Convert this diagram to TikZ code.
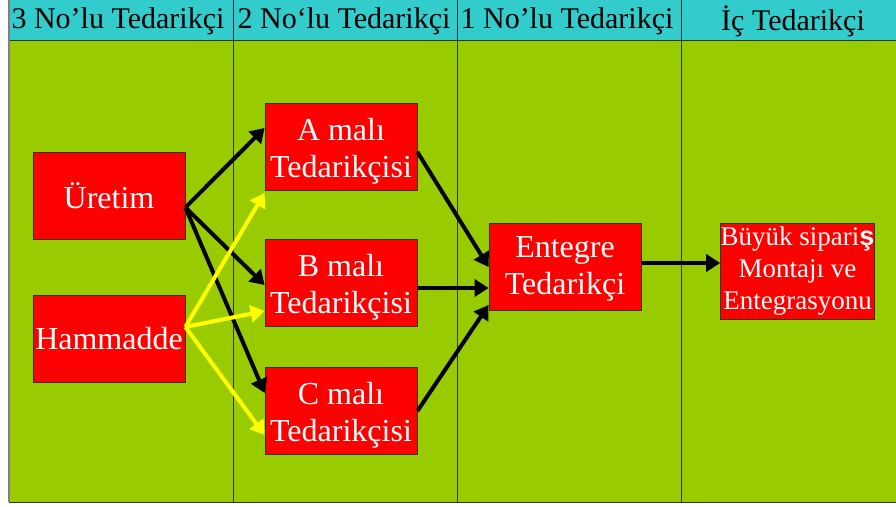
\documentclass[tikz,border=0pt]{standalone}
\usepackage{fontspec}
\setmainfont{Liberation Serif}
\newfontfamily\sansf{Liberation Sans}
\usetikzlibrary{arrows.meta}
\definecolor{hdrcyan}{HTML}{33CCCC}
\definecolor{lanegreen}{HTML}{99CC00}
\definecolor{boxred}{HTML}{FF0000}
\definecolor{arrowyellow}{HTML}{FFFF00}
\definecolor{boxedge}{HTML}{333300}
\newcommand{\lowertext}[2]{\raisebox{-#1}[\height][\depth]{\parbox{150pt}{\centering #2}}}
\begin{document}
\begin{tikzpicture}[x=1pt,y=-1pt,
  hdr/.style={font=\fontsize{30}{34}\selectfont, text=black, anchor=center},
  redbox/.style={draw=boxedge, line width=0.8pt, fill=boxred, text=white,
    minimum width=152pt, minimum height=87pt, inner sep=0pt, align=center,
    font=\fontsize{32}{37}\selectfont},
  smallbox/.style={redbox, minimum height=96pt, font=\fontsize{27}{32}\selectfont},
  blk/.style={line width=4pt, draw=black, -{Triangle[length=14pt,width=17pt]}},
  yel/.style={line width=4pt, draw=arrowyellow, -{Triangle[length=14pt,width=17pt]}},
  lane/.style={draw=black!80, line width=0.9pt}]
\useasboundingbox (0,0) rectangle (896,506);
% background
\fill[lanegreen] (9,40) rectangle (896,502);
\fill[hdrcyan] (9,0) rectangle (896,40);
\draw[lane] (9,40) -- (896,40);
\draw[lane] (233,0) -- (233,502);
\draw[lane] (457,0) -- (457,502);
\draw[lane] (681,0) -- (681,502);
\draw[draw=black!50, line width=1.2pt] (9,0) -- (9,502);
\draw[lane] (9,502) -- (896,502);
% headers
\node[hdr] (h3) at (118,21) {3 No’lu Tedarikçi};
\node[hdr] (h2) at (344,21) {2 No‘lu Tedarikçi};
\node[hdr] (h1) at (567,21) {1 No’lu Tedarikçi};
\node[hdr] (h0) at (793,21) {İç Tedarikçi};
% boxes
\node[redbox] (ure) at (109,195.5) {Üretim};
\node[redbox] (ham) at (109,339) {Hammadde};
\node[redbox] (a) at (341,147) {\lowertext{4pt}{A malı\\Tedarikçisi}};
\node[redbox] (b) at (341,283) {\lowertext{4pt}{B malı\\Tedarikçisi}};
\node[redbox] (c) at (341,411) {\lowertext{4pt}{C malı\\Tedarikçisi}};
\node[redbox] (ent) at (565,267) {\lowertext{2pt}{Entegre\\Tedarikçi}};
\node[smallbox] (buy) at (797.5,271.5) {Büyük sipari{\sansf\bfseries ş}\\Montajı ve\\Entegrasyonu};
% black arrows from Üretim
\draw[blk] ([yshift=-12pt]ure.east) -- ([yshift=19pt]a.west);
\draw[blk] ([yshift=-12pt]ure.east) -- ([yshift=-2pt]b.west);
\draw[blk] ([yshift=-12pt]ure.east) -- ([yshift=18pt]c.west);
% yellow arrows from Hammadde
\draw[yel] ([yshift=12pt]ham.east) -- ([yshift=-2pt]a.south west);
\draw[yel] ([yshift=12pt]ham.east) -- ([yshift=-28pt]b.west);
\draw[yel] ([yshift=12pt]ham.east) -- ([yshift=-24pt]c.west);
% to Entegre
\draw[blk] ([yshift=-5pt]a.east) -- (ent.west);
\draw[blk] ([yshift=-5pt]b.east) -- ([yshift=-21pt]ent.west);
\draw[blk] (c.east) -- ([yshift=-38pt]ent.west);
% to Büyük
\draw[blk] ([yshift=4pt]ent.east) -- ([yshift=8.5pt]buy.west);
\end{tikzpicture}
\end{document}
